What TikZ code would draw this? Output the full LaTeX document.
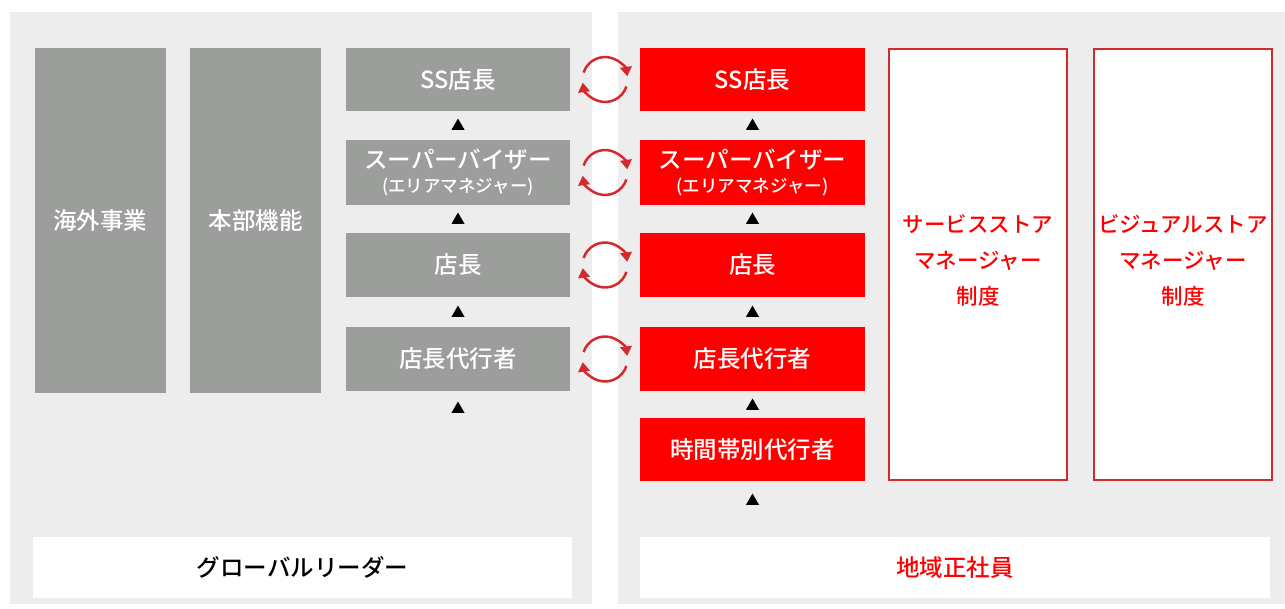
\documentclass[tikz,border=0pt]{standalone}
\usepackage{fontspec}
\newfontfamily\jp{Noto Sans CJK JP Medium}
\usetikzlibrary{arrows.meta,shapes.geometric,calc}
\definecolor{panelgray}{HTML}{EDEDED}
\definecolor{boxgray}{HTML}{9C9E9C}
\definecolor{boxred}{HTML}{FF0000}
\definecolor{linered}{HTML}{D42A2E}
\begin{document}
\begin{tikzpicture}[x=1pt,y=-1pt,
  every node/.style={inner sep=0pt, outer sep=0pt, font=\jp},
  big/.style={font=\jp\fontsize{23.5}{28}\selectfont},
  graybox/.style={fill=boxgray, text=white, minimum width=224pt, big, align=center},
  redbox/.style={fill=boxred, text=white, minimum width=225pt, big, align=center},
  tallbox/.style={fill=boxgray, text=white, minimum width=131pt, minimum height=345pt, big},
  outbox/.style={fill=white, draw=linered, line width=2pt, minimum width=178pt, minimum height=431pt},
  outtext/.style={text=boxred, align=center, font=\jp\fontsize{21.5}{36}\selectfont},
  basebox/.style={fill=white, minimum height=61pt, big},
  tri/.style={regular polygon, regular polygon sides=3, fill=black, minimum size=15pt},
  cyc/.style={draw=linered, line width=2.5pt, -{Triangle[length=9.5pt,width=11.5pt]}}
]
\useasboundingbox (0,0) rectangle (1285,608);
\fill[white] (0,0) rectangle (1285,608);
\fill[panelgray] (10,12) rectangle (592,604);
\fill[panelgray] (618,12) rectangle (1285,604);

% left panel
\node[tallbox] (kaigai) at (100,220.5) {海外事業};
\node[tallbox] (honbu) at (255.5,220.5) {本部機能};
\node[graybox, minimum height=63pt] (gss) at (458,79.5) {SS店長};
\node[graybox, minimum height=65pt] (gsv) at (458,172.5) {スーパーバイザー\\[-4pt]{\fontsize{17.5}{20}\selectfont (エリアマネジャー)}};
\node[graybox, minimum height=64pt] (gten) at (458,265) {店長};
\node[graybox, minimum height=64pt] (gdai) at (458,359) {店長代行者};
\node[tri] (gt1) at (458,126) {};
\node[tri] (gt2) at (458,220) {};
\node[tri] (gt3) at (458,313) {};
\node[tri] (gt4) at (458,409) {};
\node[basebox, minimum width=539pt, text=black] (global) at (302.5,567.5) {グローバルリーダー};

% right panel
\node[redbox, minimum height=63pt] (rss) at (752.5,79.5) {SS店長};
\node[redbox, minimum height=65pt] (rsv) at (752.5,172.5) {スーパーバイザー\\[-4pt]{\fontsize{17.5}{20}\selectfont (エリアマネジャー)}};
\node[redbox, minimum height=64pt] (rten) at (752.5,265) {店長};
\node[redbox, minimum height=64pt] (rdai) at (752.5,359) {店長代行者};
\node[redbox, minimum height=63pt] (rjikan) at (752.5,449.5) {時間帯別代行者};
\node[tri] (rt1) at (752.5,126) {};
\node[tri] (rt2) at (752.5,220) {};
\node[tri] (rt3) at (752.5,313) {};
\node[tri] (rt4) at (752.5,406) {};
\node[tri] (rt5) at (752.5,501) {};
\node[outbox] (service) at (978,264.5) {};
\node[outtext] (servicet) at ($(service.center)+(0,-4)$) {サービスストア\\マネージャー\\制度};
\node[outbox] (visual) at (1183,264.5) {};
\node[outtext] (visualt) at ($(visual.center)+(0,-4)$) {ビジュアルストア\\マネージャー\\制度};
\node[basebox, minimum width=630pt, text=boxred] (chiiki) at (955,567.5) {地域正社員};

% exchange cycles
\foreach \g/\r [count=\i] in {gss/rss,gsv/rsv,gten/rten,gdai/rdai}{
  \coordinate (c\i) at ($(\g.east)!0.5!(\r.west)$);
  \draw[cyc] ($(c\i)+(162:22.5pt)$) arc[start angle=162, end angle=8, radius=22.5pt];
  \draw[cyc] ($(c\i)+(-18:22.5pt)$) arc[start angle=-18, end angle=-172, radius=22.5pt];
}
\end{tikzpicture}
\end{document}
